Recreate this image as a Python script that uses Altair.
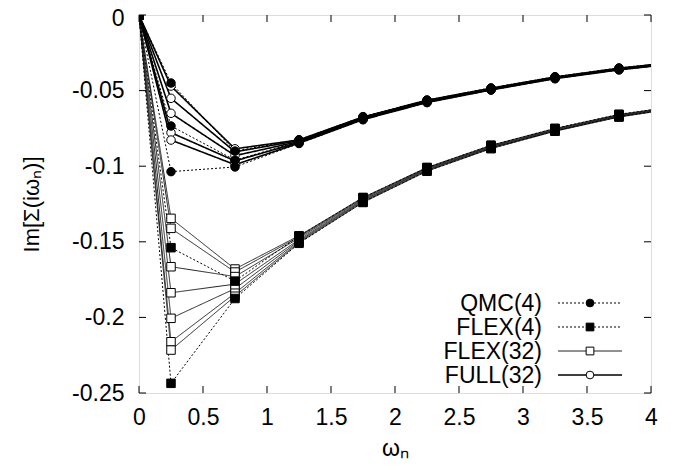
import altair as alt
import pandas as pd

# Matsubara frequencies (last point lies beyond the axis and is clipped)
omega = [0.0, 0.25, 0.75, 1.25, 1.75, 2.25, 2.75, 3.25, 3.75, 4.25]

# QMC(4): three k-points
qmc4_k1 = [0.0, -0.045, -0.090, -0.0825, -0.0672, -0.0562, -0.0482, -0.0408, -0.0350, -0.0305]
qmc4_k2 = [0.0, -0.0734, -0.096, -0.0838, -0.068, -0.0569, -0.0488, -0.0414, -0.0356, -0.031]
qmc4_k3 = [0.0, -0.1036, -0.1005, -0.0850, -0.0692, -0.0579, -0.0496, -0.0421, -0.0362, -0.0316]

# FLEX(4): two k-points
flex4_k1 = [0.0, -0.1539, -0.176, -0.1462, -0.1208, -0.1010, -0.0862, -0.0750, -0.0657, -0.0597]
flex4_k2 = [0.0, -0.2436, -0.1875, -0.1510, -0.1238, -0.1032, -0.0882, -0.0767, -0.0673, -0.0610]

# FLEX(32): seven k-points
flex32_k1 = [0.0, -0.1345, -0.168, -0.1460, -0.1207, -0.1008, -0.0862, -0.0751, -0.0658, -0.0598]
flex32_k2 = [0.0, -0.1411, -0.170, -0.1467, -0.1212, -0.1012, -0.0866, -0.0754, -0.0661, -0.0600]
flex32_k3 = [0.0, -0.1665, -0.173, -0.1475, -0.1218, -0.1016, -0.0870, -0.0758, -0.0664, -0.0602]
flex32_k4 = [0.0, -0.1837, -0.178, -0.1485, -0.1224, -0.1020, -0.0873, -0.0761, -0.0667, -0.0605]
flex32_k5 = [0.0, -0.2006, -0.181, -0.1493, -0.1229, -0.1024, -0.0877, -0.0764, -0.0670, -0.0607]
flex32_k6 = [0.0, -0.2161, -0.184, -0.1500, -0.1234, -0.1028, -0.0880, -0.0766, -0.0672, -0.0609]
flex32_k7 = [0.0, -0.2216, -0.186, -0.1506, -0.1240, -0.1033, -0.0884, -0.0769, -0.0675, -0.0611]

# FULL(32): five k-points
full32_k1 = [0.0, -0.047, -0.0885, -0.0826, -0.0674, -0.0564, -0.0484, -0.0410, -0.0352, -0.0307]
full32_k2 = [0.0, -0.0551, -0.0905, -0.0831, -0.0678, -0.0567, -0.0487, -0.0413, -0.0355, -0.0309]
full32_k3 = [0.0, -0.065, -0.093, -0.0837, -0.0683, -0.0571, -0.0490, -0.0416, -0.0358, -0.0312]
full32_k4 = [0.0, -0.0778, -0.0965, -0.0843, -0.0688, -0.0575, -0.0493, -0.0418, -0.0360, -0.0314]
full32_k5 = [0.0, -0.0827, -0.099, -0.0848, -0.0692, -0.0579, -0.0496, -0.0421, -0.0363, -0.0316]

methods = ["QMC(4)", "FLEX(4)", "FLEX(32)", "FULL(32)"]
x_ticks = [0, 0.5, 1, 1.5, 2, 2.5, 3, 3.5, 4]
y_ticks = [0, -0.05, -0.1, -0.15, -0.2, -0.25]

series = {
    "QMC(4)": [qmc4_k1, qmc4_k2, qmc4_k3],
    "FLEX(4)": [flex4_k1, flex4_k2],
    "FLEX(32)": [flex32_k1, flex32_k2, flex32_k3, flex32_k4, flex32_k5, flex32_k6, flex32_k7],
    "FULL(32)": [full32_k1, full32_k2, full32_k3, full32_k4, full32_k5],
}

rows = []
for m, curves in series.items():
    for i, c in enumerate(curves):
        for w, v in zip(omega, c):
            rows.append({"method": m, "curve": f"{m}-{i}", "omega": w, "value": v})
df = pd.DataFrame(rows)

FONT = "Liberation Sans"
W, H = 512, 378
FS = 23

xs = alt.Scale(domain=[0, 4], nice=False, zero=False)
ys = alt.Scale(domain=[-0.25, 0], nice=False, zero=False)

style = {
    "QMC(4)": dict(dash=[2, 2], sw=1.0, shape="circle", fill="black", lc="black"),
    "FLEX(4)": dict(dash=[2, 2], sw=1.0, shape="square", fill="black", lc="black"),
    "FLEX(32)": dict(dash=[1, 0], sw=1.0, shape="square", fill="white", lc="#222222"),
    "FULL(32)": dict(dash=[1, 0], sw=1.6, shape="circle", fill="white", lc="black"),
}

x_enc = alt.X("omega:Q", scale=xs, axis=alt.Axis(
    values=x_ticks, ticks=False, domain=False, grid=False, labelFont=FONT,
    labelFontSize=FS, labelColor="black", labelPadding=13, labelFlush=False,
    labelExpr="format(datum.value, '~g')",
    title="ωₙ", titleFont=FONT, titleFontSize=23, titleFontWeight="normal",
    titleColor="black", titlePadding=8))
y_enc = alt.Y("value:Q", scale=ys, axis=alt.Axis(
    values=y_ticks, ticks=False, domain=False, grid=False, labelFont=FONT,
    labelFontSize=FS, labelColor="black", labelPadding=15, labelFlush=False,
    labelOffset={"condition": {"test": "datum.value === 0", "value": 3.5}, "value": 0},
    labelExpr="datum.value == 0 ? '0' : '-' + format(-datum.value, '~g')",
    title="Im[Σ(iωₙ)]", titleFont=FONT, titleFontSize=22, titleFontWeight="normal",
    titleColor="black", titlePadding=28))

layers = []
order = ["FLEX(32)", "FULL(32)", "QMC(4)", "FLEX(4)"]
for m in order:
    s = style[m]
    d = df[df.method == m]
    layers.append(alt.Chart(d).mark_line(clip=True, strokeDash=s["dash"], strokeWidth=s["sw"],
                                         color=s["lc"]).encode(x=x_enc, y=y_enc, detail="curve:N"))
for m in order:
    s = style[m]
    d = df[df.method == m]
    layers.append(alt.Chart(d).mark_point(clip=True, shape=s["shape"], filled=True,
                                          fill=s["fill"], stroke="black", strokeWidth=1,
                                          size=72, opacity=1).encode(x=x_enc, y=y_enc))

# inward ticks on all four sides
xt = pd.DataFrame({"t": x_ticks})
yt = pd.DataFrame({"t": y_ticks})
tick_len = 7
layers.append(alt.Chart(xt).mark_rule(color="black").encode(
    x=alt.X("t:Q", scale=xs), y=alt.value(H), y2=alt.value(H - tick_len)))
layers.append(alt.Chart(xt).mark_rule(color="black").encode(
    x=alt.X("t:Q", scale=xs), y=alt.value(0), y2=alt.value(tick_len)))
layers.append(alt.Chart(yt).mark_rule(color="black").encode(
    y=alt.Y("t:Q", scale=ys), x=alt.value(0), x2=alt.value(tick_len)))
layers.append(alt.Chart(yt).mark_rule(color="black").encode(
    y=alt.Y("t:Q", scale=ys), x=alt.value(W), x2=alt.value(W - tick_len)))

# key (bottom right, gnuplot style)
row_y = [288, 312, 336, 360]
for m, ry in zip(methods, row_y):
    s = style[m]
    one = pd.DataFrame({"label": [m]})
    layers.append(alt.Chart(one).mark_text(align="right", baseline="middle", font=FONT,
                                           fontSize=FS, color="black").encode(
        text="label:N", x=alt.value(403), y=alt.value(ry + 1)))
    layers.append(alt.Chart(one).mark_rule(strokeDash=s["dash"], strokeWidth=s["sw"],
                                           color=s["lc"]).encode(
        x=alt.value(419), x2=alt.value(483), y=alt.value(ry)))
    layers.append(alt.Chart(one).mark_point(shape=s["shape"], filled=True, fill=s["fill"],
                                            stroke="black", strokeWidth=1, size=60,
                                            opacity=1).encode(
        x=alt.value(451), y=alt.value(ry)))

chart = alt.layer(*layers).properties(
    width=W, height=H,
    autosize=alt.AutoSizeParams(type="none"),
    padding={"left": 131, "top": 7, "right": 19, "bottom": 69},
).configure_view(stroke="black", strokeWidth=1.2).configure(background="white")

chart.save("out.html", embed_options={"renderer": "svg", "actions": False})
